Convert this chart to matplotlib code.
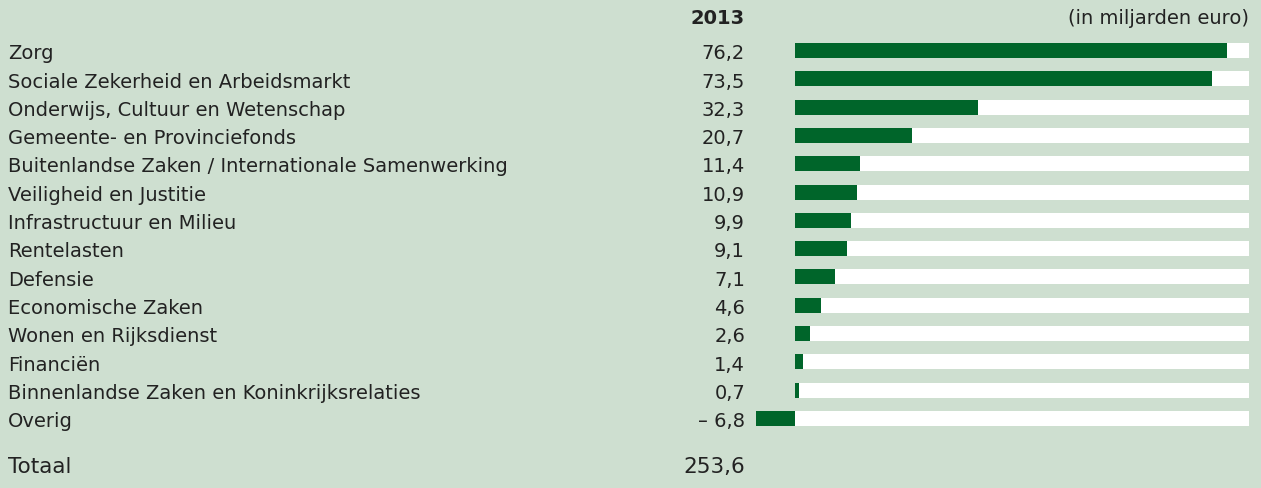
import numpy as np
import matplotlib.pyplot as plt
from matplotlib.transforms import blended_transform_factory

labels = ["Zorg", "Sociale Zekerheid en Arbeidsmarkt", "Onderwijs, Cultuur en Wetenschap",
          "Gemeente- en Provinciefonds", "Buitenlandse Zaken / Internationale Samenwerking",
          "Veiligheid en Justitie", "Infrastructuur en Milieu", "Rentelasten", "Defensie",
          "Economische Zaken", "Wonen en Rijksdienst", "Financiën",
          "Binnenlandse Zaken en Koninkrijksrelaties", "Overig"]
values = [76.2, 73.5, 32.3, 20.7, 11.4, 10.9, 9.9, 9.1, 7.1, 4.6, 2.6, 1.4, 0.7, -6.8]
value_labels = ["76,2", "73,5", "32,3", "20,7", "11,4", "10,9", "9,9", "9,1", "7,1",
                "4,6", "2,6", "1,4", "0,7", "\u2013 6,8"]
total_label = "253,6"
year = "2013"
unit = "(in miljarden euro)"
axis_max = 80

bg = "#cedfd0"
green = "#00652a"
txt = "#222222"
plt.rcParams['font.family'] = ['DejaVu Sans']

W, H = 1261, 489
fig = plt.figure(figsize=(W / 100, H / 100), dpi=100)
fig.patch.set_facecolor(bg)
ax = fig.add_axes([0, 0, 1, 1])
ax.set_facecolor(bg)
ax.axis('off')

zero_px = 795
px_per_unit = 5.675
row0_px = 51.5
row_px = 28.3
ax.set_xlim(-zero_px / px_per_unit, (W - zero_px) / px_per_unit)
ax.set_ylim((H - row0_px) / row_px, -row0_px / row_px)

y = np.arange(len(values))
ax.barh(y, [axis_max] * len(values), height=15 / row_px, color="white", left=0)
ax.barh(y, values, height=15 / row_px, color=green)

tr = blended_transform_factory(fig.transFigure, ax.transData)
fs = 14
for i, (lab, vl) in enumerate(zip(labels, value_labels)):
    ax.text(8 / W, i + 0.08, lab, transform=tr, ha='left', va='center', fontsize=fs, color=txt)
    ax.text(745 / W, i + 0.08, vl, transform=tr, ha='right', va='center', fontsize=fs, color=txt)

ax.text(745 / W, -1.17, year, transform=tr, ha='right', va='center', fontsize=fs,
        color=txt, fontweight='bold')
ax.text(1249 / W, -1.17, unit, transform=tr, ha='right', va='center', fontsize=fs, color=txt)

ax.text(8 / W, 14.67, "Totaal", transform=tr, ha='left', va='center', fontsize=fs + 1.5, color=txt)
ax.text(745 / W, 14.67, total_label, transform=tr, ha='right', va='center', fontsize=fs + 1.5, color=txt)

fig.savefig("out.png", dpi=100, facecolor=bg)
